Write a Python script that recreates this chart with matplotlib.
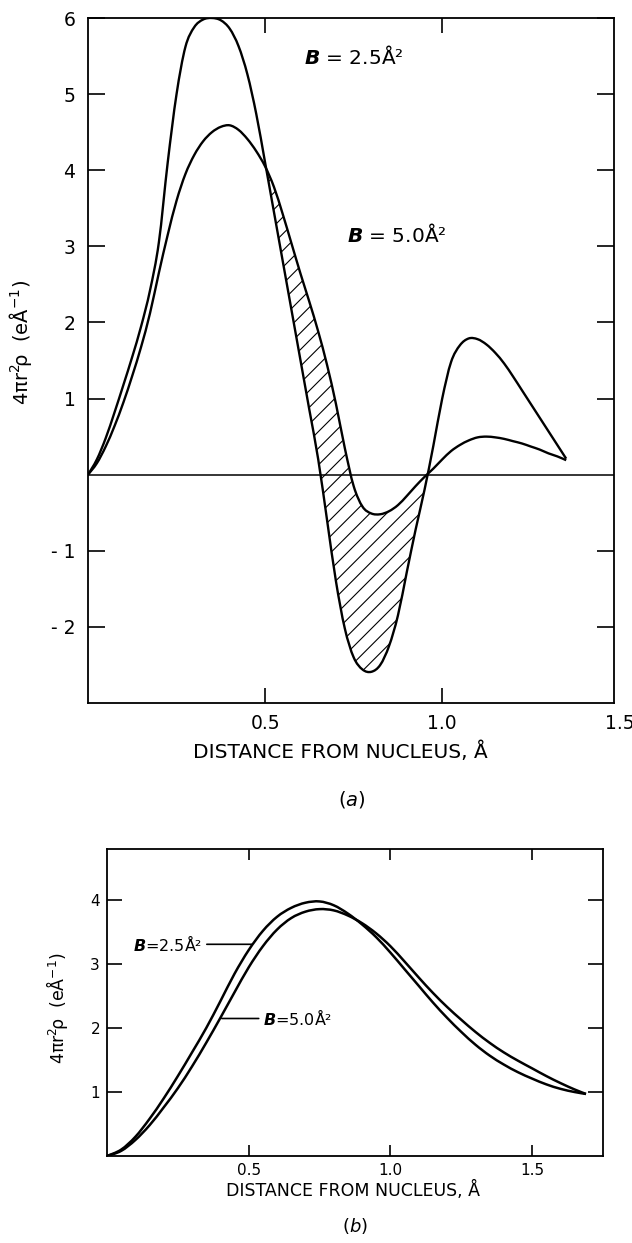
import numpy as np
import matplotlib
matplotlib.use("Agg")
import matplotlib.pyplot as plt
from matplotlib.path import Path
from matplotlib.patches import PathPatch

plt.rcParams['font.family'] = ['DejaVu Sans']
plt.rcParams['mathtext.fontset'] = 'custom'
plt.rcParams['mathtext.rm'] = 'DejaVu Sans'
plt.rcParams['mathtext.it'] = 'DejaVu Sans:italic'
plt.rcParams['mathtext.bf'] = 'DejaVu Sans:italic:bold'
plt.rcParams['mathtext.default'] = 'regular'
plt.rcParams['hatch.linewidth'] = 0.8

# ---------------- data: panel (a) ----------------
xa = [0.0, 0.025, 0.05, 0.075, 0.1, 0.125, 0.15, 0.175, 0.2, 0.225, 0.25, 0.275,
      0.3, 0.325, 0.35, 0.375, 0.4, 0.425, 0.45, 0.475, 0.5, 0.525, 0.55, 0.575,
      0.6, 0.625, 0.65, 0.675, 0.7, 0.725, 0.75, 0.775, 0.8, 0.825, 0.85, 0.875,
      0.9, 0.925, 0.95, 0.975, 1.0, 1.025, 1.05, 1.075, 1.1, 1.125, 1.15, 1.175,
      1.2, 1.225, 1.25, 1.275, 1.3, 1.325, 1.35]
ya_b25 = [0.0, 0.2, 0.48, 0.82, 1.18, 1.55, 1.95, 2.42, 3.05, 4.1, 5.0, 5.62,
          5.88, 5.98, 6.0, 5.97, 5.86, 5.63, 5.26, 4.74, 4.1, 3.45, 2.8, 2.15,
          1.5, 0.85, 0.2, -0.6, -1.4, -2.02, -2.4, -2.56, -2.59, -2.5, -2.25, -1.85,
          -1.28, -0.72, -0.2, 0.38, 1.0, 1.48, 1.7, 1.79, 1.78, 1.71, 1.6, 1.46,
          1.29, 1.11, 0.93, 0.75, 0.57, 0.39, 0.21]
ya_b50 = [0.0, 0.15, 0.37, 0.64, 0.95, 1.3, 1.68, 2.12, 2.65, 3.15, 3.6, 3.95,
          4.2, 4.38, 4.5, 4.57, 4.59, 4.53, 4.41, 4.25, 4.05, 3.78, 3.42, 3.03,
          2.64, 2.27, 1.88, 1.44, 0.93, 0.35, -0.15, -0.42, -0.51, -0.52, -0.48, -0.4,
          -0.28, -0.15, -0.03, 0.08, 0.2, 0.31, 0.39, 0.45, 0.49, 0.5, 0.49, 0.47,
          0.44, 0.41, 0.37, 0.33, 0.28, 0.24, 0.19]
hatch_range_a = (0.5, 0.96)
yticks_a = [-2, -1, 1, 2, 3, 4, 5, 6]
yticklabels_a = ['- 2', '- 1', '1', '2', '3', '4', '5', '6']
xticks_a = [0.5, 1.0]
xticklabels_a = ['0.5', '1.0']
extra_xlabel_a = (1.5, '1.5')

# ---------------- data: panel (b) ----------------
xb = [0.0, 0.05, 0.1, 0.15, 0.2, 0.25, 0.3, 0.35, 0.4, 0.45, 0.5, 0.55, 0.6,
      0.65, 0.7, 0.75, 0.8, 0.85, 0.9, 0.95, 1.0, 1.05, 1.1, 1.15, 1.2, 1.25,
      1.3, 1.35, 1.4, 1.45, 1.5, 1.55, 1.6, 1.65, 1.69]
yb_b25 = [0.0, 0.1, 0.3, 0.58, 0.9, 1.25, 1.62, 2.0, 2.42, 2.85, 3.22, 3.52, 3.74,
          3.88, 3.96, 3.98, 3.92, 3.79, 3.62, 3.42, 3.18, 2.92, 2.66, 2.4, 2.16, 1.94,
          1.74, 1.57, 1.43, 1.31, 1.21, 1.12, 1.05, 1.0, 0.97]
yb_b50 = [0.0, 0.08, 0.25, 0.48, 0.76, 1.06, 1.4, 1.77, 2.16, 2.56, 2.95, 3.28, 3.54,
          3.72, 3.82, 3.86, 3.84, 3.76, 3.64, 3.48, 3.28, 3.04, 2.79, 2.55, 2.33, 2.13,
          1.94, 1.77, 1.62, 1.49, 1.37, 1.25, 1.14, 1.04, 0.97]
yticks_b = [1, 2, 3, 4]
xticks_b = [0.5, 1.0, 1.5]
xticklabels_b = ['0.5', '1.0', '1.5']

ylabel_txt = r'$4\pi r^2\!\rho$  (eÅ$^{-1}$)'
xlabel_txt = 'DISTANCE FROM NUCLEUS, Å'


def smooth_curve(ax, x, y, **kw):
    """Draw a smooth (Catmull-Rom / cubic Bezier) curve through the data points."""
    p = np.column_stack([x, y]).astype(float)
    n = len(p)
    verts = [p[0]]
    codes = [Path.MOVETO]
    for i in range(n - 1):
        p0 = p[i - 1] if i > 0 else p[i]
        p1 = p[i]
        p2 = p[i + 1]
        p3 = p[i + 2] if i + 2 < n else p[i + 1]
        c1 = p1 + (p2 - p0) / 6.0
        c2 = p2 - (p3 - p1) / 6.0
        verts += [c1, c2, p2]
        codes += [Path.CURVE4] * 3
    patch = PathPatch(Path(verts, codes), fill=False, **kw)
    ax.add_patch(patch)
    return patch


W, H = 632, 1243
fig = plt.figure(figsize=(W / 100, H / 100), dpi=100)


def rect(l, r, t, b):
    return [l / W, 1 - b / H, (r - l) / W, (b - t) / H]


# ---------------- panel (a) ----------------
ax = fig.add_axes(rect(88, 614, 18, 703))
xa_arr = np.array(xa)
smooth_curve(ax, xa, ya_b25, edgecolor='black', lw=1.7, joinstyle='round')
smooth_curve(ax, xa, ya_b50, edgecolor='black', lw=1.7, joinstyle='round')
ax.axhline(0, color='black', lw=1.1)
mask = (xa_arr >= hatch_range_a[0]) & (xa_arr <= hatch_range_a[1])
ax.fill_between(xa, ya_b25, ya_b50, where=mask, interpolate=True,
                facecolor='none', edgecolor='black', hatch='//', lw=0)
ax.set_xlim(0, 1.485)
ax.set_ylim(-3, 6)
ax.set_yticks(yticks_a)
ax.set_yticklabels(yticklabels_a)
ax.set_xticks(xticks_a)
ax.set_xticklabels(xticklabels_a)
ax.annotate(extra_xlabel_a[1], xy=(extra_xlabel_a[0], 0),
            xycoords=('data', 'axes fraction'),
            xytext=(0, -8), textcoords='offset points', ha='center', va='top',
            fontsize=13.5, annotation_clip=False)
ax.tick_params(axis='both', direction='in', top=True, right=True,
               labelsize=13.5, width=1.2)
ax.tick_params(axis='y', length=12, pad=9)
ax.tick_params(axis='x', length=11, pad=8)
for s in ax.spines.values():
    s.set_linewidth(1.3)
ax.set_ylabel(ylabel_txt, fontsize=14)
ax.yaxis.set_label_coords(-0.103, 0.526)
ax.set_xlabel(xlabel_txt, fontsize=14.5)
ax.xaxis.set_label_coords(0.48, -0.056)
ax.text(0.61, 5.5, r'$\mathbf{B}$ = 2.5Å²', fontsize=14.5, ha='left', va='center')
ax.text(0.73, 3.15, r'$\mathbf{B}$ = 5.0Å²', fontsize=14.5, ha='left', va='center')
fig.text(352 / W, 1 - 800 / H, r'($\mathit{a}$)', fontsize=14, ha='center', va='center')

# ---------------- panel (b) ----------------
bx = fig.add_axes(rect(107, 603, 849, 1156))
smooth_curve(bx, xb, yb_b25, edgecolor='black', lw=1.8, joinstyle='round')
smooth_curve(bx, xb, yb_b50, edgecolor='black', lw=1.8, joinstyle='round')
bx.set_xlim(0, 1.75)
bx.set_ylim(0, 4.8)
bx.set_yticks(yticks_b)
bx.set_xticks(xticks_b)
bx.set_xticklabels(xticklabels_b)
bx.tick_params(axis='both', direction='in', top=True, right=True,
               labelsize=11, width=1.2)
bx.tick_params(axis='y', length=11, pad=5)
bx.tick_params(axis='x', length=8, pad=5)
for s in bx.spines.values():
    s.set_linewidth(1.3)
bx.set_ylabel(ylabel_txt, fontsize=12.5)
bx.yaxis.set_label_coords(-0.075, 0.48)
bx.set_xlabel(xlabel_txt, fontsize=12.5)
bx.xaxis.set_label_coords(0.496, -0.08)
bx.annotate(r'$\mathbf{B}$=2.5Å²', xy=(0.511, 3.31), xytext=(0.093, 3.31),
            fontsize=11.5, ha='left', va='center',
            arrowprops=dict(arrowstyle='-', lw=1.2, color='black', shrinkA=1, shrinkB=0))
bx.annotate(r'$\mathbf{B}$=5.0Å²', xy=(0.405, 2.15), xytext=(0.55, 2.15),
            fontsize=11.5, ha='left', va='center',
            arrowprops=dict(arrowstyle='-', lw=1.2, color='black', shrinkA=1, shrinkB=0))
fig.text(355 / W, 1 - 1226 / H, r'($\mathit{b}$)', fontsize=13, ha='center', va='center')

fig.savefig('out.png', dpi=100, facecolor='white')
